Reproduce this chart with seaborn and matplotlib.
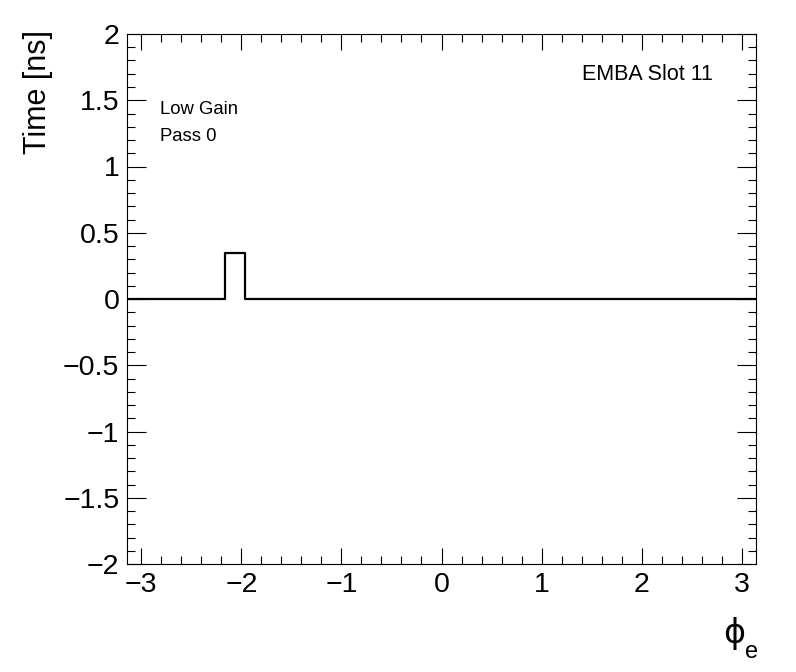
import numpy as np
import pandas as pd
import matplotlib
matplotlib.use("Agg")
import matplotlib.pyplot as plt
from matplotlib.ticker import MultipleLocator, FuncFormatter
import seaborn as sns

# 32 phi bins over [-pi, pi], time offset per bin in ns
n_bins = 32
phi_range = (-np.pi, np.pi)
phi_edges = np.linspace(phi_range[0], phi_range[1], n_bins + 1)
phi_centers = 0.5 * (phi_edges[:-1] + phi_edges[1:])
time_ns = [0.0, 0.0, 0.0, 0.0, 0.0, 0.35, 0.0, 0.0,
           0.0, 0.0, 0.0, 0.0, 0.0, 0.0, 0.0, 0.0,
           0.0, 0.0, 0.0, 0.0, 0.0, 0.0, 0.0, 0.0,
           0.0, 0.0, 0.0, 0.0, 0.0, 0.0, 0.0, 0.0]

df = pd.DataFrame({"phi": phi_centers, "time": time_ns})

sns.set_theme(style="white")
plt.rcParams['font.family'] = ['Liberation Sans', 'DejaVu Sans']
plt.rcParams['text.color'] = 'black'

W, H = 796, 672
fig = plt.figure(figsize=(W / 100, H / 100), dpi=100)
ax = fig.add_axes([127 / W, 1 - 564 / H, (756 - 127) / W, (564 - 34) / H])

sns.histplot(data=df, x="phi", weights="time", bins=n_bins, binrange=phi_range,
             element="step", fill=False, color="black", linewidth=1.6, ax=ax)

ax.set_xlim(*phi_range)
ax.set_ylim(-2, 2)
ax.set_xlabel("")
ax.set_ylabel("")

minus = FuncFormatter(lambda v, p: ("%g" % v).replace("-", "\u2212"))
ax.xaxis.set_major_locator(MultipleLocator(1))
ax.xaxis.set_minor_locator(MultipleLocator(0.2))
ax.yaxis.set_major_locator(MultipleLocator(0.5))
ax.yaxis.set_minor_locator(MultipleLocator(0.1))
ax.xaxis.set_major_formatter(minus)
ax.yaxis.set_major_formatter(minus)
ax.tick_params(axis="both", which="both", direction="in",
               top=True, right=True, bottom=True, left=True,
               colors="black", labelcolor="black", width=0.8, labelsize=20.5, pad=5.5)
ax.tick_params(axis="x", which="major", length=11.5)
ax.tick_params(axis="y", which="major", length=13.5)
ax.tick_params(axis="both", which="minor", length=5.8)
for s in ax.spines.values():
    s.set_color("black")
    s.set_linewidth(0.8)

fig.text(38 / W, 1 - 30 / H, "Time [ns]", rotation=90, ha="center", va="top", fontsize=22)
# phi_e axis title, drawn as symbol + lowered subscript like ROOT does
fig.text(745 / W, 1 - 643 / H, "\u03d5", ha="right", va="baseline", fontsize=24,
         family=["DejaVu Sans"])
fig.text(745 / W, 1 - 658 / H, "e", ha="left", va="baseline", fontsize=17)
fig.text(160 / W, 1 - 114 / H, "Low Gain", fontsize=13.3, va="baseline")
fig.text(160 / W, 1 - 141 / H, "Pass 0", fontsize=13.3, va="baseline")
fig.text(582 / W, 1 - 80 / H, "EMBA Slot 11", fontsize=15.5, va="baseline")

fig.savefig("out.png", dpi=100, facecolor="white")
